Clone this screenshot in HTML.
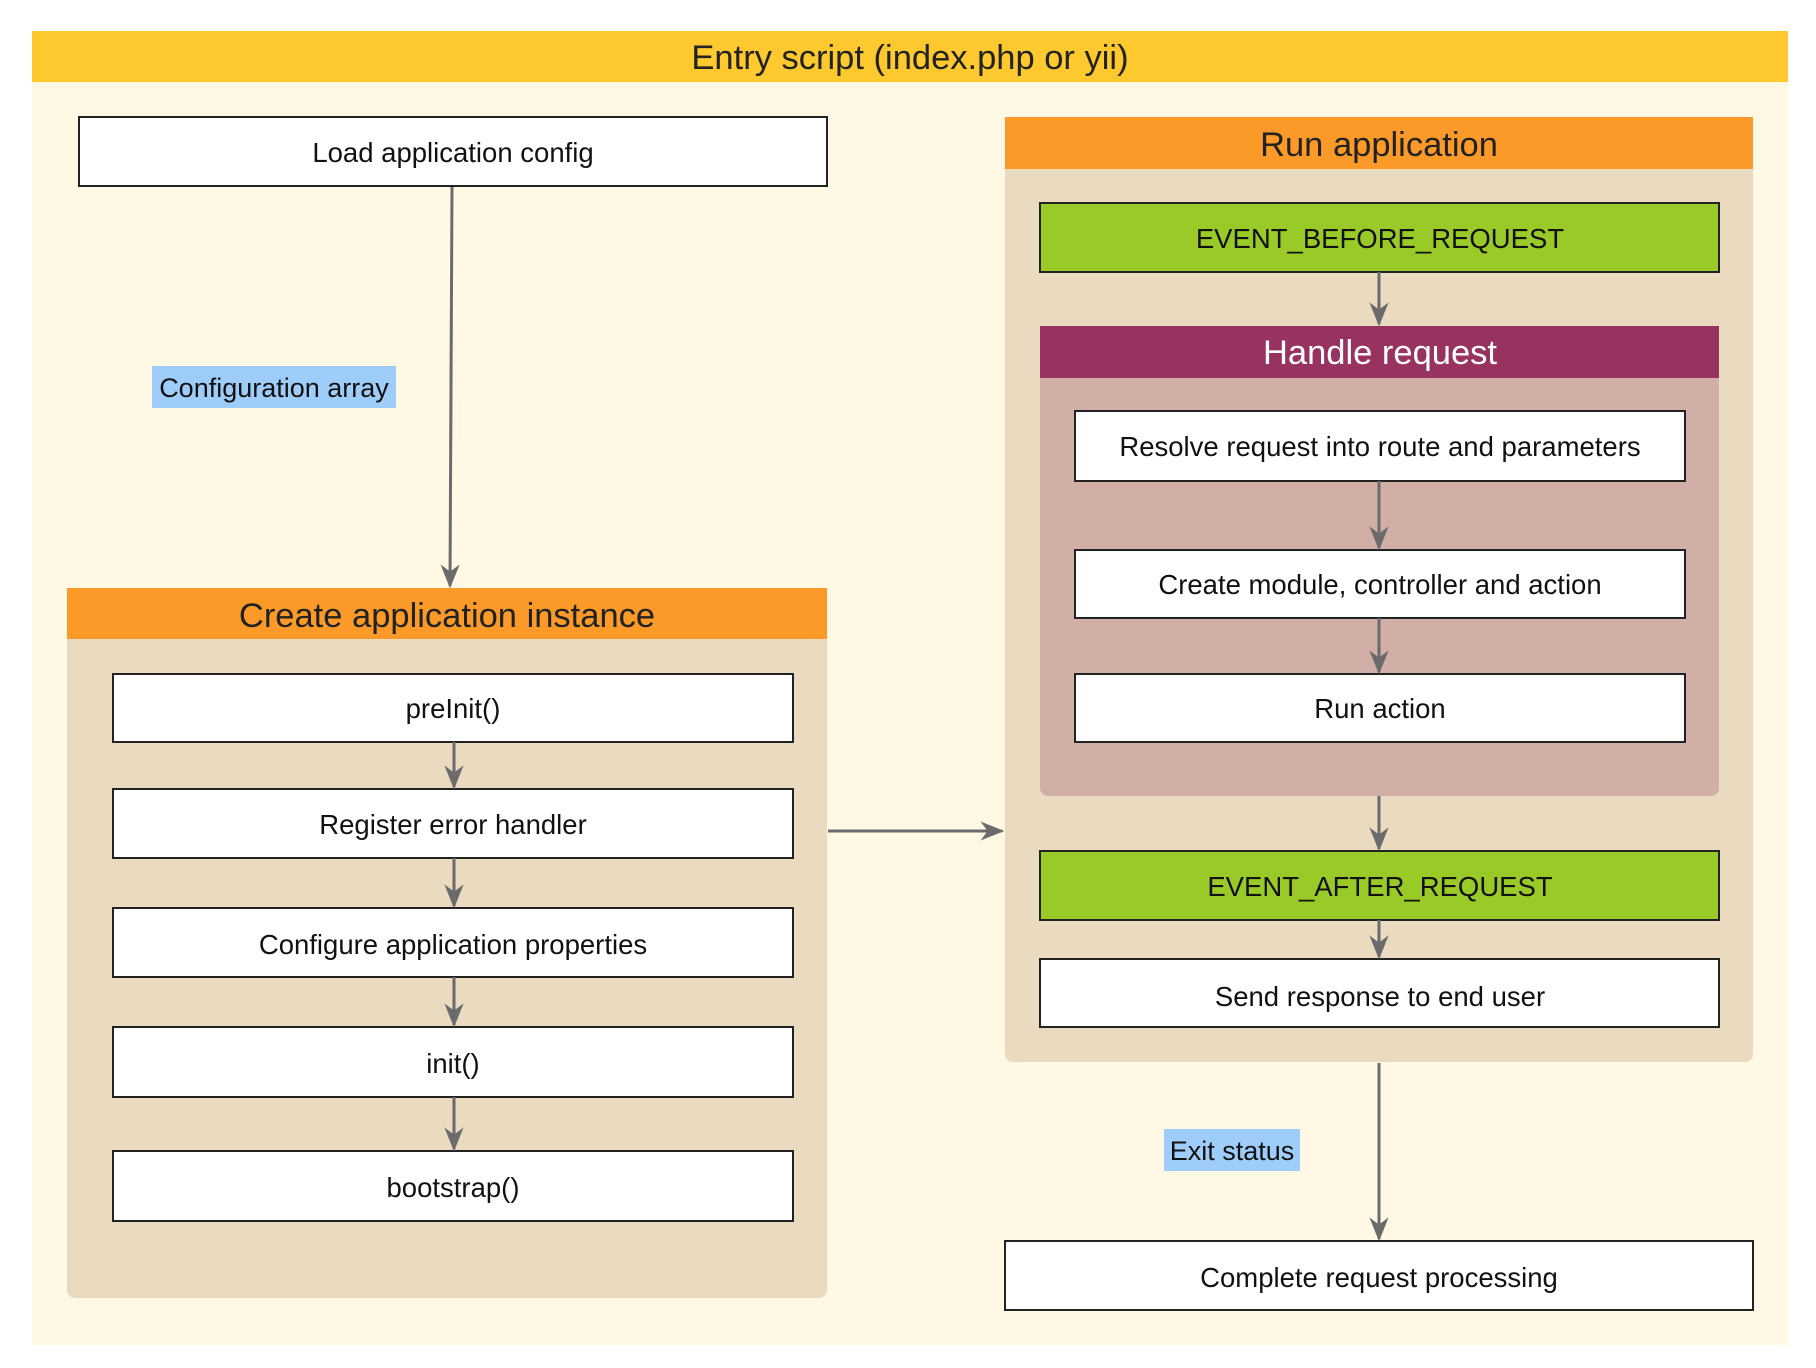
<!DOCTYPE html>
<html><head><meta charset="utf-8"><style>
html,body{margin:0;padding:0;background:#fff;}
svg{display:block;}
text{font-family:"Liberation Sans",sans-serif;}
</style></head><body>
<svg width="1816" height="1368" viewBox="0 0 1816 1368" xmlns="http://www.w3.org/2000/svg">
<defs>
<marker id="ah" viewBox="0 0 20 20" refX="18" refY="10" markerWidth="24" markerHeight="24" markerUnits="userSpaceOnUse" orient="auto">
<path d="M0,2 L20,10 L0,18 L6,10 Z" fill="#6b6b6b"/>
</marker>
</defs>
<rect x="0" y="0" width="1816" height="1368" fill="#fff"/>
<rect x="32" y="82" width="1756" height="1263" fill="#fef8e4"/>
<rect x="32" y="31" width="1756" height="51" fill="#fec92f"/>
<text x="910" y="69" font-size="34.5" text-anchor="middle" fill="#222">Entry script (index.php or yii)</text>

<rect x="79" y="117" width="748" height="69" fill="#fff" stroke="#222" stroke-width="2"/>
<text x="453" y="162" font-size="27.5" text-anchor="middle" fill="#111">Load application config</text>
<rect x="152" y="366" width="244" height="42" fill="#9fcdfa"/>
<text x="274" y="397" font-size="27" text-anchor="middle" fill="#111">Configuration array</text>
<line x1="452" y1="187" x2="450" y2="586" stroke="#6b6b6b" stroke-width="3" marker-end="url(#ah)"/>

<rect x="67" y="588" width="760" height="710" rx="8" fill="#e9dac0"/>
<rect x="67" y="588" width="760" height="51" fill="#fb9a29"/>
<text x="447" y="627" font-size="34.5" text-anchor="middle" fill="#222">Create application instance</text>
<g fill="#fff" stroke="#222" stroke-width="2">
<rect x="113" y="674" width="680" height="68"/>
<rect x="113" y="789" width="680" height="69"/>
<rect x="113" y="908" width="680" height="69"/>
<rect x="113" y="1027" width="680" height="70"/>
<rect x="113" y="1151" width="680" height="70"/>
</g>
<g font-size="27.5" text-anchor="middle" fill="#111">
<text x="453" y="718">preInit()</text>
<text x="453" y="834">Register error handler</text>
<text x="453" y="954">Configure application properties</text>
<text x="453" y="1073">init()</text>
<text x="453" y="1197">bootstrap()</text>
</g>
<g stroke="#6b6b6b" stroke-width="3" marker-end="url(#ah)">
<line x1="454" y1="742" x2="454" y2="787"/>
<line x1="454" y1="858" x2="454" y2="906"/>
<line x1="454" y1="977" x2="454" y2="1025"/>
<line x1="454" y1="1097" x2="454" y2="1149"/>
<line x1="828" y1="831" x2="1002" y2="831"/>
</g>

<rect x="1005" y="117" width="748" height="945" rx="8" fill="#e9dac0"/>
<rect x="1005" y="117" width="748" height="52" fill="#fb9a29"/>
<text x="1379" y="156" font-size="34.5" text-anchor="middle" fill="#222">Run application</text>
<rect x="1040" y="203" width="679" height="69" fill="#9aca27" stroke="#222" stroke-width="2"/>
<text x="1380" y="248" font-size="27.5" text-anchor="middle" fill="#111">EVENT_BEFORE_REQUEST</text>

<rect x="1040" y="326" width="679" height="470" rx="8" fill="#d1aea6"/>
<rect x="1040" y="326" width="679" height="52" fill="#983361"/>
<text x="1380" y="364" font-size="34.5" text-anchor="middle" fill="#fff">Handle request</text>
<g fill="#fff" stroke="#222" stroke-width="2">
<rect x="1075" y="411" width="610" height="70"/>
<rect x="1075" y="550" width="610" height="68"/>
<rect x="1075" y="674" width="610" height="68"/>
</g>
<g font-size="27.5" text-anchor="middle" fill="#111">
<text x="1380" y="456">Resolve request into route and parameters</text>
<text x="1380" y="594">Create module, controller and action</text>
<text x="1380" y="718">Run action</text>
</g>
<rect x="1040" y="851" width="679" height="69" fill="#9aca27" stroke="#222" stroke-width="2"/>
<text x="1380" y="896" font-size="27.5" text-anchor="middle" fill="#111">EVENT_AFTER_REQUEST</text>
<rect x="1040" y="959" width="679" height="68" fill="#fff" stroke="#222" stroke-width="2"/>
<text x="1380" y="1006" font-size="27.5" text-anchor="middle" fill="#111">Send response to end user</text>

<g stroke="#6b6b6b" stroke-width="3" marker-end="url(#ah)">
<line x1="1379" y1="272" x2="1379" y2="324"/>
<line x1="1379" y1="481" x2="1379" y2="548"/>
<line x1="1379" y1="618" x2="1379" y2="672"/>
<line x1="1379" y1="796" x2="1379" y2="849"/>
<line x1="1379" y1="920" x2="1379" y2="957"/>
<line x1="1379" y1="1063" x2="1379" y2="1239"/>
</g>
<rect x="1164" y="1129" width="136" height="42" fill="#9fcdfa"/>
<text x="1232" y="1160" font-size="27" text-anchor="middle" fill="#111">Exit status</text>
<rect x="1005" y="1241" width="748" height="69" fill="#fff" stroke="#222" stroke-width="2"/>
<text x="1379" y="1287" font-size="27.5" text-anchor="middle" fill="#111">Complete request processing</text>
</svg>
</body></html>
